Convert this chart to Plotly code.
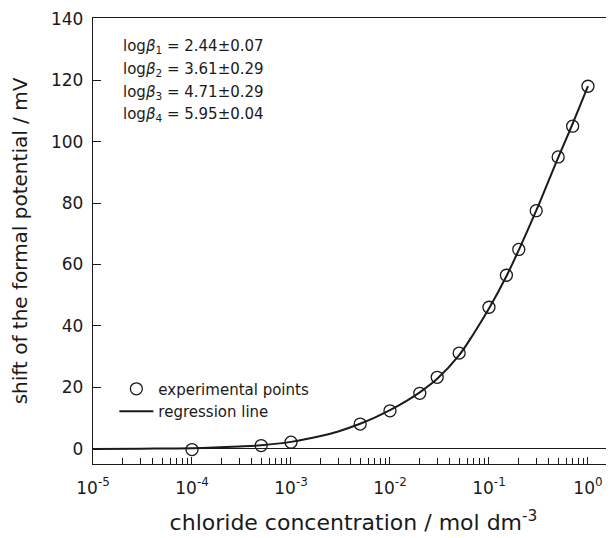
import plotly.graph_objects as go

# experimental points
exp_conc = [1e-4, 5e-4, 1e-3, 5e-3, 1e-2, 2e-2, 3e-2, 5e-2, 0.1, 0.15, 0.2, 0.3, 0.5, 0.7, 1.0]
exp_shift = [-0.2, 1.1, 2.2, 8.1, 12.4, 18.1, 23.3, 31.2, 46.1, 56.5, 64.9, 77.5, 95.0, 105.0, 118.0]

# regression line
line_conc = [1e-5, 3e-5, 1e-4, 3e-4, 5e-4, 1e-3, 2e-3, 3e-3, 5e-3, 7e-3, 1e-2, 1.5e-2, 2e-2,
             3e-2, 5e-2, 7e-2, 0.1, 0.15, 0.2, 0.3, 0.5, 0.7, 1.0]
line_shift = [0.0, 0.1, 0.25, 0.8, 1.2, 2.3, 4.2, 5.7, 8.2, 10.2, 12.6, 15.8, 18.4,
              22.8, 30.5, 37.5, 45.7, 56.2, 64.7, 77.5, 94.8, 105.8, 118.0]

x_ticks = [1e-5, 1e-4, 1e-3, 1e-2, 1e-1, 1e0]
x_ticktext = ["10<sup>-5</sup>", "10<sup>-4</sup>", "10<sup>-3</sup>",
              "10<sup>-2</sup>", "10<sup>-1</sup>", "10<sup>0</sup>"]
y_ticks = [0, 20, 40, 60, 80, 100, 120, 140]

beta_labels = ["log<i>β</i><sub>1</sub> = 2.44±0.07",
               "log<i>β</i><sub>2</sub> = 3.61±0.29",
               "log<i>β</i><sub>3</sub> = 4.71±0.29",
               "log<i>β</i><sub>4</sub> = 5.95±0.04"]

minor_vals = [m * 10.0 ** e for e in range(-5, 1) for m in range(2, 10)]

FONT = "DejaVu Sans"
INK = "#1a1a1a"

fig = go.Figure()
fig.add_trace(go.Scatter(
    x=exp_conc, y=exp_shift, mode="markers", name="experimental points",
    marker=dict(symbol="circle-open", size=12, color=INK, line=dict(width=1.3, color=INK)),
))
fig.add_trace(go.Scatter(
    x=line_conc, y=line_shift, mode="lines", name="regression line",
    line=dict(color=INK, width=2, shape="spline"),
))

PW, PH = 521, 446
for i, t in enumerate(beta_labels):
    fig.add_annotation(
        text=t, xref="paper", yref="paper", x=(121 - 93) / PW,
        y=1 - (47 + 22.5 * i - 18) / PH, xanchor="left", yanchor="middle",
        showarrow=False, font=dict(family=FONT, size=15, color=INK),
    )

# page body has an 8px margin; the figure is sized so the plot area lands where the reference has it
fig.update_layout(
    width=606, height=530,
    margin=dict(l=85, r=0, t=10, b=74, autoexpand=False),
    paper_bgcolor="white", plot_bgcolor="white",
    font=dict(family=FONT, color=INK),
    showlegend=True,
    legend=dict(x=0.041, y=0.205, xanchor="left", yanchor="top",
                bgcolor="rgba(0,0,0,0)", font=dict(family=FONT, size=15, color=INK),
                tracegroupgap=0, itemwidth=34),
)

fig.update_xaxes(
    type="log", range=[-5, 0.263], automargin=False,
    showline=True, linecolor=INK, linewidth=1.3, mirror=True,
    showgrid=False, zeroline=False,
    ticks="inside", ticklen=7, tickcolor=INK, tickwidth=1,
    tickvals=x_ticks, ticktext=x_ticktext, ticklabelstandoff=8,
    tickfont=dict(family=FONT, size=17, color=INK),
    minor=dict(tickvals=minor_vals, ticks="inside", ticklen=6, tickcolor=INK, tickwidth=1, showgrid=False),
    title=dict(text="chloride concentration / mol dm<sup>-3</sup>",
               font=dict(family=FONT, size=22, color=INK), standoff=18),
)
fig.update_yaxes(
    range=[-4.9, 140.2], automargin=False,
    showline=True, linecolor=INK, linewidth=1.3, mirror=False,
    showgrid=False, zeroline=True, zerolinecolor=INK, zerolinewidth=1.3,
    ticks="inside", ticklen=8, tickcolor=INK, tickwidth=1,
    tickvals=y_ticks, ticklabelstandoff=5,
    tickfont=dict(family=FONT, size=17, color=INK),
    title=dict(text="shift of the formal potential / mV",
               font=dict(family=FONT, size=20, color=INK), standoff=25),
)

fig.write_html("out.html")
